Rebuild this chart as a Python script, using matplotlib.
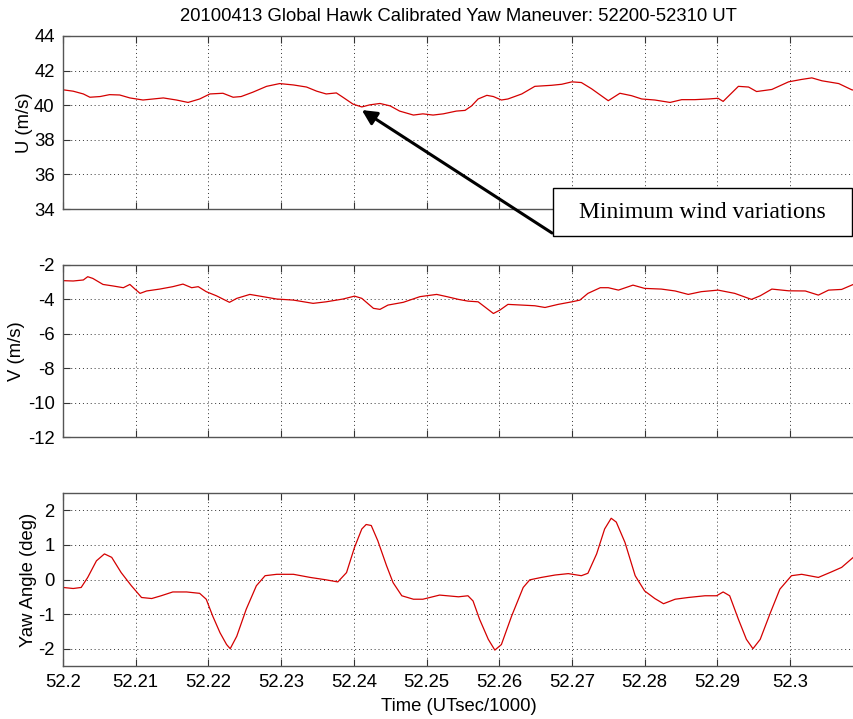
import matplotlib
matplotlib.use('Agg')
import numpy as np
import matplotlib.pyplot as plt
from matplotlib.patches import Rectangle

# seconds after 52200 UT
u_sec = [0.0, 1.4, 2.8, 3.7, 5.1, 6.4, 7.8, 9.2, 11.0, 12.4, 13.8, 15.6, 17.2, 18.8, 20.2, 22.0,
         23.4, 24.5, 26.1, 28.0, 29.8, 31.7, 33.5, 34.9, 36.2, 37.6, 38.5, 39.9, 41.1, 42.2, 43.6,
         45.0, 46.3, 48.2, 49.5, 50.9, 52.3, 54.1, 55.3, 56.2, 57.1, 58.3, 59.2, 60.3, 61.2, 63.1,
         64.9, 67.2, 68.6, 70.0, 71.3, 72.7, 75.0, 76.6, 78.2, 79.6, 81.4, 83.5, 85.1, 86.9, 88.8,
         90.1, 90.8, 92.9, 94.3, 95.4, 97.5, 99.8, 101.6, 103.0, 104.4, 106.7, 108.5, 109.0]
u_wind = [40.89, 40.81, 40.65, 40.46, 40.50, 40.61, 40.59, 40.42, 40.30, 40.36, 40.42, 40.30, 40.16,
          40.36, 40.65, 40.69, 40.46, 40.50, 40.75, 41.09, 41.25, 41.17, 41.05, 40.81, 40.65, 40.71,
          40.46, 40.06, 39.90, 40.02, 40.10, 39.96, 39.66, 39.43, 39.50, 39.43, 39.50, 39.66, 39.70,
          39.96, 40.36, 40.57, 40.50, 40.30, 40.36, 40.65, 41.09, 41.15, 41.21, 41.35, 41.31, 40.95,
          40.26, 40.69, 40.55, 40.36, 40.30, 40.16, 40.32, 40.32, 40.36, 40.40, 40.22, 41.09, 41.05,
          40.79, 40.91, 41.35, 41.49, 41.58, 41.41, 41.25, 40.89, 40.85]

v_sec = [0.0, 1.4, 2.8, 3.4, 4.1, 5.5, 6.9, 8.3, 9.2, 9.9, 10.6, 11.5, 13.3, 15.1, 16.5, 17.7, 18.6,
         19.7, 21.1, 22.9, 23.9, 25.7, 27.5, 29.4, 31.7, 34.4, 36.2, 38.5, 40.1, 41.1, 42.7, 43.6,
         44.7, 46.8, 49.1, 51.4, 52.8, 54.4, 55.7, 57.1, 58.0, 59.2, 60.1, 61.2, 63.1, 64.9, 66.3,
         68.1, 70.0, 71.1, 72.2, 73.9, 75.0, 76.4, 78.4, 80.0, 82.3, 84.2, 86.0, 87.8, 90.1, 92.4,
         94.7, 95.9, 97.5, 99.8, 102.1, 103.9, 105.3, 107.1, 108.7]
v_wind = [-2.91, -2.93, -2.87, -2.68, -2.78, -3.13, -3.22, -3.32, -3.13, -3.40, -3.65, -3.51, -3.40,
          -3.26, -3.11, -3.32, -3.26, -3.55, -3.79, -4.17, -3.94, -3.71, -3.84, -3.98, -4.04, -4.23,
          -4.14, -3.98, -3.81, -3.94, -4.52, -4.58, -4.33, -4.17, -3.84, -3.71, -3.84, -4.00, -4.10,
          -4.14, -4.43, -4.82, -4.62, -4.29, -4.33, -4.37, -4.47, -4.29, -4.14, -4.04, -3.65, -3.32,
          -3.32, -3.46, -3.17, -3.36, -3.40, -3.51, -3.71, -3.55, -3.46, -3.65, -4.00, -3.79, -3.40,
          -3.50, -3.51, -3.75, -3.46, -3.42, -3.13]

yaw_sec = [0.0, 1.4, 2.5, 3.4, 4.6, 5.7, 6.7, 8.0, 9.4, 10.8, 12.2, 13.5, 15.1, 17.0, 18.8, 19.7,
           20.6, 21.6, 22.5, 23.0, 23.9, 25.2, 26.6, 27.8, 29.4, 31.7, 34.0, 36.2, 37.8, 39.0, 40.1,
           41.1, 41.7, 42.4, 43.3, 44.5, 45.4, 46.6, 48.2, 49.5, 51.8, 54.4, 55.7, 56.4, 57.3, 58.5,
           59.4, 60.3, 61.7, 63.3, 64.2, 65.8, 67.7, 69.5, 71.3, 72.2, 73.4, 74.5, 75.4, 76.1, 77.3,
           78.7, 80.0, 81.4, 82.6, 84.2, 86.0, 88.3, 89.9, 90.8, 91.7, 92.9, 94.0, 94.9, 95.9, 97.3,
           98.6, 100.2, 101.6, 103.9, 105.7, 107.1, 108.7]
yaw_deg = [-0.23, -0.26, -0.23, 0.06, 0.54, 0.74, 0.64, 0.20, -0.18, -0.52, -0.55, -0.47, -0.36,
           -0.36, -0.40, -0.57, -1.06, -1.54, -1.88, -2.00, -1.64, -0.86, -0.18, 0.11, 0.15, 0.15,
           0.06, -0.01, -0.07, 0.20, 0.93, 1.46, 1.59, 1.56, 1.12, 0.40, -0.09, -0.47, -0.57, -0.57,
           -0.45, -0.50, -0.47, -0.62, -1.15, -1.73, -2.04, -1.88, -1.06, -0.23, -0.01, 0.06, 0.13,
           0.17, 0.11, 0.18, 0.74, 1.46, 1.77, 1.66, 1.07, 0.11, -0.33, -0.55, -0.70, -0.57, -0.52,
           -0.47, -0.47, -0.36, -0.47, -1.15, -1.73, -2.00, -1.73, -0.96, -0.28, 0.11, 0.15, 0.06,
           0.22, 0.35, 0.64]

x_ticks = [52.2, 52.21, 52.22, 52.23, 52.24, 52.25, 52.26, 52.27, 52.28, 52.29, 52.3]
x_ticklabels = ['52.2', '52.21', '52.22', '52.23', '52.24', '52.25', '52.26', '52.27', '52.28',
                '52.29', '52.3']

plt.rcParams['font.family'] = ['Liberation Sans', 'DejaVu Sans']
plt.rcParams['font.size'] = 13
plt.rcParams['axes.unicode_minus'] = False  # MATLAB style hyphen minus

fig = plt.figure(figsize=(8.54, 7.19), dpi=100)
fig.patch.set_facecolor('white')

W, H = 854.0, 719.0
left = 63 / W
boxes = [(36, 209), (265, 437), (493, 666)]
axes = []
for top, bot in boxes:
    ax = fig.add_axes([left, 1 - bot / H, 1 - left, (bot - top) / H])
    axes.append(ax)

# (x values, y values, ylim, yticks, ylabel, ylabel x in axes fraction)
series = [(u_sec, u_wind, (34, 44), [34, 36, 38, 40, 42, 44], 'U (m/s)', -0.038),
          (v_sec, v_wind, (-12, -2), [-12, -10, -8, -6, -4, -2], 'V (m/s)', -0.048),
          (yaw_sec, yaw_deg, (-2.5, 2.5), [-2, -1, 0, 1, 2], 'Yaw Angle (deg)', -0.033)]

for ax, (sec, val, ylim, yt, lab, lx) in zip(axes, series):
    t = (52200 + np.array(sec)) / 1000.0
    ax.plot(t, val, color='#d40000', linewidth=0.9)
    ax.set_xlim(52.2, 52.3088)
    ax.set_ylim(*ylim)
    ax.set_yticks(yt)
    ax.set_xticks(x_ticks)
    ax.grid(True, color='#333333', linestyle=(0, (1, 3)), linewidth=0.7)
    ax.tick_params(direction='in', length=5, width=0.8, color='#333333', top=True, right=False,
                   labelsize=13.3, pad=6)
    for s in ['left', 'top', 'bottom']:
        ax.spines[s].set_color('#555555')
        ax.spines[s].set_linewidth(1.0)
    ax.spines['right'].set_visible(False)
    ax.set_ylabel(lab, fontsize=13.3)
    ax.yaxis.set_label_coords(lx, 0.5)

axes[0].set_xticklabels([])
axes[1].set_xticklabels([])
axes[2].set_xticklabels(x_ticklabels)
axes[2].set_xlabel('Time (UTsec/1000)', fontsize=13.3, labelpad=5)
axes[0].set_title('20100413 Global Hawk Calibrated Yaw Maneuver: 52200-52310 UT',
                  fontsize=13.3, pad=11)

# callout box and arrow
rect = Rectangle((553 / W, 1 - 236 / H), 299 / W, 48 / H, transform=fig.transFigure,
                 facecolor='white', edgecolor='black', linewidth=1.0, zorder=5)
fig.patches.append(rect)
fig.text(702 / W, 1 - 212 / H, 'Minimum wind variations', ha='center', va='center',
         family='Liberation Serif', fontsize=17, zorder=6)
axes[0].annotate('', xy=(52.2411, 39.72), xycoords='data',
                 xytext=(552 / W, 1 - 233 / H), textcoords='figure fraction',
                 arrowprops=dict(arrowstyle='-|>', color='black', lw=2.2, mutation_scale=22,
                                 shrinkA=0, shrinkB=0),
                 annotation_clip=False)

fig.savefig('out.png', dpi=100)
